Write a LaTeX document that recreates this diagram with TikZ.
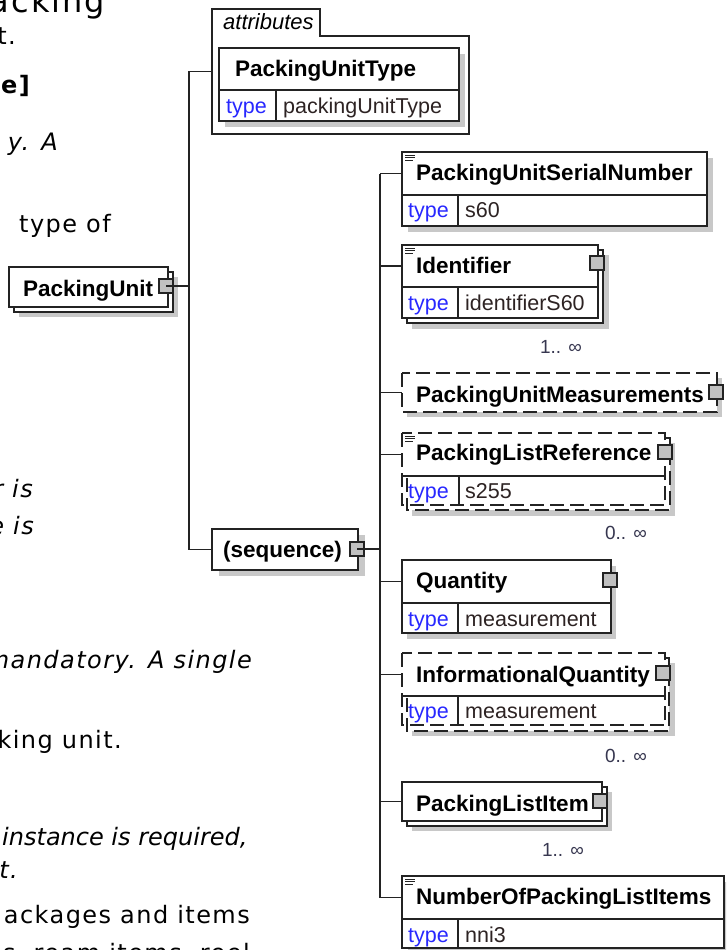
\documentclass[tikz,border=0pt]{standalone}
\usepackage{fontspec}
\setmainfont{Liberation Sans}
\newfontfamily\pagefont{DejaVu Sans}[LetterSpace=6]
\newfontfamily\pagefonttight{DejaVu Sans}
\usetikzlibrary{calc}
\definecolor{ln}{RGB}{35,35,35}
\definecolor{shd}{RGB}{200,200,200}
\definecolor{btn}{RGB}{192,192,192}
\definecolor{typeblue}{RGB}{40,40,255}
\definecolor{valc}{RGB}{45,35,35}
\definecolor{mult}{RGB}{55,55,80}
\tikzset{
  bx/.style={draw=ln, line width=1.3pt, fill=white, outer sep=0pt, inner sep=0pt, anchor=north west},
  cell/.style={outer sep=0pt, inner sep=0pt, anchor=north west},
  dsh/.style={dash pattern=on 14pt off 6pt},
  edge/.style={draw=ln, line width=1.3pt},
  btnbox/.style={draw=ln, line width=1.2pt, fill=btn, minimum size=14pt, inner sep=0pt, outer sep=0pt},
  conn/.style={draw=ln, line width=1.3pt},
  nm/.style={font=\fontsize{22.5}{26}\selectfont\bfseries, anchor=base west, inner sep=0pt},
  tp/.style={font=\fontsize{21.5}{26}\selectfont, text=typeblue, anchor=base west, inner sep=0pt},
  vl/.style={font=\fontsize{21.5}{26}\selectfont, text=valc, anchor=base west, inner sep=0pt},
  mu/.style={font=\fontsize{19}{22}\selectfont, text=mult, anchor=base east, inner sep=0pt},
  pg/.style={font=\pagefont\fontsize{24}{28}\selectfont, anchor=base east, inner sep=0pt},
  pgi/.style={font=\pagefont\fontsize{24}{28}\selectfont\itshape, anchor=base east, inner sep=0pt},
  docline/.style={draw=ln, line width=0.8pt},
}
\begin{document}
\begin{tikzpicture}[x=1pt,y=-1pt]
\useasboundingbox (0,0) rectangle (726,950);
\clip (0,0) rectangle (726,950);
\fill[white] (0,0) rectangle (726,950);

% ---- page text fragments (left) ----
\node[pg, font=\pagefont\fontsize{32}{36}\selectfont] (t1) at (105,13) {acking};
\node[pg] (t2) at (16,45) {t.};
\node[pg, font=\pagefont\fontsize{24}{28}\selectfont\bfseries] (t3) at (30,93) {e]};
\node[pgi] (t4) at (58,150) {y. A};
\node[pg] (t5) at (111,232) {type of};
\node[pgi] (t6) at (33,497) {r is};
\node[pgi] (t7) at (34,534) {e is};
\node[pgi] (t8) at (252,668) {mandatory. A single};
\node[pg] (t9) at (122,748) {king unit.};
\node[anchor=base west, inner sep=0pt, font=\pagefonttight\fontsize{24}{28}\selectfont\itshape] (t10) at (2,845) {instance is required,};
\node[pgi] (t11) at (18,878) {st.};
\node[pg] (t12) at (250,923) {ackages and items};
\node[pg] (t13) at (250,961) {s, ream items, reel};

% ---- buses ----
\coordinate (lbus) at (189,0);
\coordinate (rbus) at (380,0);

% ---- PackingUnit (root) ----
\fill[shd] (19,277) rectangle (178,317);
\draw[edge, fill=white] (14,272) rectangle (173,312);
\node[bx, minimum width=159pt, minimum height=40pt] (pu) at (9,267) {};
\node[nm] (pul) at (23,296) {PackingUnit};
\node[btnbox] (pub) at (166,286) {};

% ---- attributes group ----
\node[cell, minimum width=257pt, minimum height=125pt] (attrs) at (212,9) {};
\draw[edge] (attrs.south west) -- (attrs.north west) -- (320,9) -- (320,36) -- (469,36) -- (attrs.south east) -- cycle;
\node[anchor=base west, inner sep=0pt, font=\fontsize{22}{26}\selectfont\itshape] (attrl) at (223,30) {attributes};
\fill[shd] (225,54) rectangle (465,127);
\node[bx, minimum width=240pt, minimum height=42pt] (put) at (219,48) {};
\node[bx, minimum width=57pt, minimum height=31pt] (putt) at (put.south west) {};
\node[bx, minimum width=183pt, minimum height=31pt] (putv) at (putt.north east) {};
\node[nm] (putl) at (235,76) {PackingUnitType};
\node[tp] (puttl) at (226,113) {type};
\node[vl] (putvl) at (283,113) {packingUnitType};

% ---- sequence ----
\fill[shd] (219,535) rectangle (365,576);
\node[bx, minimum width=146pt, minimum height=41pt] (seq) at (212,529) {};
\node[nm] (seql) at (223,557) {(sequence)};
\node[btnbox] (seqb) at (357,549) {};

% ---- E1 PackingUnitSerialNumber ----
\fill[shd] (408,158) rectangle (713,232);
\node[bx, minimum width=305pt, minimum height=43pt] (e1) at (402,152) {};
\node[bx, minimum width=56pt, minimum height=31pt] (e1t) at (e1.south west) {};
\node[bx, minimum width=249pt, minimum height=31pt] (e1v) at (e1t.north east) {};
\draw[docline] (405,155)--(415,155) (405,157.5)--(415,157.5) (405,160)--(413,160);
\node[nm] (e1l) at (416,180) {PackingUnitSerialNumber};
\node[tp] (e1tl) at (408,217) {type};
\node[vl] (e1vl) at (465,217) {s60};

% ---- E2 Identifier ----
\fill[shd] (412,255) rectangle (609,329);
\draw[edge, fill=white] (407,250) rectangle (603,323);
\node[bx, minimum width=196pt, minimum height=42pt] (e2) at (402,245) {};
\node[bx, minimum width=56pt, minimum height=31pt] (e2t) at (e2.south west) {};
\node[bx, minimum width=140pt, minimum height=31pt] (e2v) at (e2t.north east) {};
\draw[docline] (405,248)--(415,248) (405,250.5)--(415,250.5) (405,253)--(413,253);
\node[nm] (e2l) at (416,273) {Identifier};
\node[tp] (e2tl) at (408,310) {type};
\node[vl] (e2vl) at (465,310) {identifierS60};
\node[btnbox] (e2b) at (597,263) {};
\node[mu] (e2m) at (582,353) {1.. ∞};

% ---- E3 PackingUnitMeasurements ----
\fill[shd] (407,378) rectangle (722,417);
\node[bx, draw=none, minimum width=315pt, minimum height=39pt] (e3) at (402,373) {};
\draw[edge, dsh] (e3.north west) rectangle (e3.south east);
\node[nm] (e3l) at (416,402) {PackingUnitMeasurements};
\node[btnbox] (e3b) at (716,392) {};

% ---- E4 PackingListReference ----
\fill[shd] (412,443) rectangle (675,516);
\draw[edge, dsh, fill=white] (407,438) rectangle (670,510);
\node[bx, draw=none, minimum width=263pt, minimum height=43pt] (e4) at (402,433) {};
\node[cell, minimum width=57pt, minimum height=29pt] (e4t) at (e4.south west) {};
\node[cell, minimum width=206pt, minimum height=29pt] (e4v) at (e4t.north east) {};
\draw[edge, dsh] (e4.north west) rectangle (e4v.south east);
\draw[edge] (e4.south west) -- (e4.south east);
\draw[edge] (e4t.north east) -- (e4t.south east);
\draw[docline] (405,436)--(415,436) (405,438.5)--(415,438.5) (405,441)--(413,441);
\node[nm] (e4l) at (416,460) {PackingListReference};
\node[tp] (e4tl) at (408,498) {type};
\node[vl] (e4vl) at (465,498) {s255};
\node[btnbox] (e4b) at (665,452) {};
\node[mu] (e4m) at (647,539) {0.. ∞};

% ---- E5 Quantity ----
\fill[shd] (407,566) rectangle (616,639);
\node[bx, minimum width=209pt, minimum height=43pt] (e5) at (402,560) {};
\node[bx, minimum width=56pt, minimum height=30pt] (e5t) at (e5.south west) {};
\node[bx, minimum width=153pt, minimum height=30pt] (e5v) at (e5t.north east) {};
\node[nm] (e5l) at (416,588) {Quantity};
\node[tp] (e5tl) at (408,626) {type};
\node[vl] (e5vl) at (465,626) {measurement};
\node[btnbox] (e5b) at (610,580) {};

% ---- E6 InformationalQuantity ----
\fill[shd] (412,663) rectangle (675,736);
\draw[edge, dsh, fill=white] (407,658) rectangle (669,731);
\node[bx, draw=none, minimum width=263pt, minimum height=43pt] (e6) at (402,653) {};
\node[cell, minimum width=56pt, minimum height=29pt] (e6t) at (e6.south west) {};
\node[cell, minimum width=207pt, minimum height=29pt] (e6v) at (e6t.north east) {};
\draw[edge, dsh] (e6.north west) rectangle (e6v.south east);
\draw[edge] (e6.south west) -- (e6.south east);
\draw[edge] (e6t.north east) -- (e6t.south east);
\node[nm] (e6l) at (416,682) {InformationalQuantity};
\node[tp] (e6tl) at (408,718) {type};
\node[vl] (e6vl) at (465,718) {measurement};
\node[btnbox] (e6b) at (663,673) {};
\node[mu] (e6m) at (647,762) {0.. ∞};

% ---- E7 PackingListItem ----
\fill[shd] (412,792) rectangle (612,831);
\draw[edge, fill=white] (407,787) rectangle (607,826);
\node[bx, minimum width=200pt, minimum height=39pt] (e7) at (402,782) {};
\node[nm] (e7l) at (416,811) {PackingListItem};
\node[btnbox] (e7b) at (600,801) {};
\node[mu] (e7m) at (584,856) {1.. ∞};

% ---- E8 NumberOfPackingListItems ----
\fill[shd] (408,882) rectangle (730,954);
\node[bx, minimum width=322pt, minimum height=43pt] (e8) at (402,876) {};
\node[bx, minimum width=56pt, minimum height=29pt] (e8t) at (e8.south west) {};
\node[bx, minimum width=266pt, minimum height=29pt] (e8v) at (e8t.north east) {};
\draw[docline] (405,879)--(415,879) (405,881.5)--(415,881.5) (405,884)--(413,884);
\node[nm] (e8l) at (416,904) {NumberOfPackingListItems};
\node[tp] (e8tl) at (408,942) {type};
\node[vl] (e8vl) at (465,942) {nni3};

% ---- connectors ----
\draw[conn] (lbus |- attrs.west) -- (lbus |- seq.west);
\draw[conn] (lbus |- attrs.west) -- (attrs.west);
\draw[conn] (lbus |- seq.west) -- (seq.west);
\draw[conn] (pub.center) -- (pub.center -| lbus);
\node[btnbox, fill=none] (pubo) at (166,286) {};
\draw[conn] (seqb.center) -- (seqb.center -| rbus);
\node[btnbox, fill=none] (seqbo) at (357,549) {};
\draw[conn] (rbus |- e1.west) -- (rbus |- e8.west);
\foreach \e in {e1,e2,e3,e4,e5,e6,e7,e8} {
  \draw[conn] (rbus |- \e.west) -- (\e.west);
}
\end{tikzpicture}
\end{document}
